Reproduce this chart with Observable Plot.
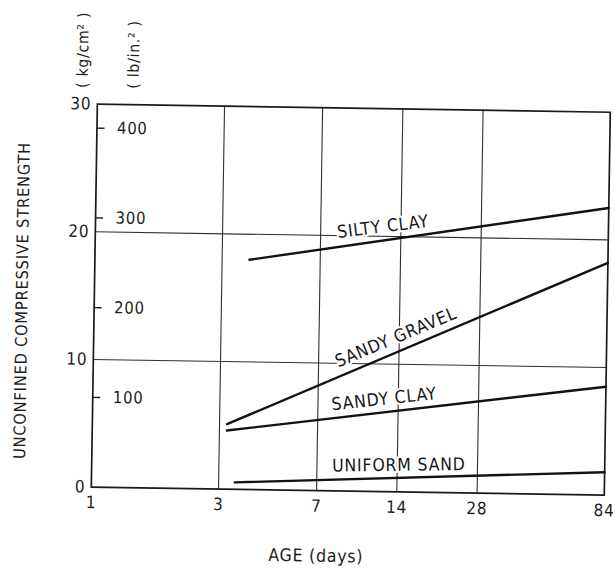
<!DOCTYPE html>
<html>
<head>
<meta charset="utf-8">
<script src="https://cdn.jsdelivr.net/npm/d3@7"></script>
<script src="https://cdn.jsdelivr.net/npm/@observablehq/plot@0.6"></script>
<style>
  html, body { margin: 0; padding: 0; background: #fff; }
  #chart svg { display: block; transform: rotate(0.9deg); transform-origin: 50% 50%; }
  #chart svg text { letter-spacing: 0.8px; }
</style>
</head>
<body>
<div id="chart"></div>
<script>
// Strength gain of cement-stabilised soils with curing age
const soils = ["SILTY CLAY", "SANDY GRAVEL", "SANDY CLAY", "UNIFORM SAND"];
const ageStart = [3.8, 3.2, 3.2, 3.45];          // days
const ageEnd = [84, 84, 84, 84];                 // days
const strengthStart = [18.0, 5.1, 4.6, 0.55];    // kg/cm²
const strengthEnd = [22.5, 18.2, 8.5, 1.8];      // kg/cm²

// where each curve's name is written
const labelAge = [12.0, 13.6, 12.4, 14.2];
const labelStrength = [20.75, 12.1, 7.25, 2.1];
const labelAngle = [-8, -23.5, -7, -1.5];

// axes
const ageTicks = [1, 3, 7, 14, 28, 84];
const ageGrid = [3, 7, 14, 28];
const kgTicks = [0, 10, 20, 30];
const kgGrid = [10, 20];
const psiTicks = [100, 200, 300, 400];
const PSI_PER_KG = 14.223;

const rows = soils.flatMap((soil, i) => [
  {soil, age: ageStart[i], strength: strengthStart[i]},
  {soil, age: ageEnd[i], strength: strengthEnd[i]}
]);
const labels = soils.map((soil, i) => ({
  soil, age: labelAge[i], strength: labelStrength[i], angle: labelAngle[i]
}));

const W = 615, H = 574;
const mL = 94, mR = 8, mT = 107, mB = 84;
const ink = "#1a1a1a";
const textInk = "#1e1e1e";
const font = "'DejaVu Sans Condensed', 'DejaVu Sans', sans-serif";

const chart = Plot.plot({
  width: W,
  height: H,
  marginLeft: mL,
  marginRight: mR,
  marginTop: mT,
  marginBottom: mB,
  style: {fontFamily: font, fontSize: "17px", color: textInk, background: "white", overflow: "visible"},
  x: {type: "log", domain: [1, 84], axis: null},
  y: {domain: [0, 30], axis: null},
  marks: [
    Plot.gridX(ageGrid, {stroke: ink, strokeOpacity: 0.9, strokeWidth: 1.1}),
    Plot.gridY(kgGrid, {stroke: ink, strokeOpacity: 0.9, strokeWidth: 1.1}),
    Plot.frame({stroke: ink, strokeWidth: 1.7}),
    // secondary scale in lb/in², ticks pointing into the plot
    Plot.ruleY(psiTicks, {y: d => d / PSI_PER_KG, insetRight: W - mL - mR - 8, stroke: ink, strokeWidth: 1.4}),
    Plot.text(psiTicks, {y: d => d / PSI_PER_KG, text: d => String(d), frameAnchor: "left", textAnchor: "start", dx: 20, fontSize: 16.5, fill: textInk}),
    // age labels under the grid lines
    Plot.text(ageTicks, {x: d => d, text: d => String(d), frameAnchor: "bottom", lineAnchor: "top", dy: 9, fontSize: 17, fill: textInk}),
    // strength labels left of the frame
    Plot.text(kgTicks, {y: d => d, text: d => String(d), frameAnchor: "left", textAnchor: "end", dx: -6, fontSize: 17, fill: textInk}),
    // axis titles and units
    Plot.text(["UNCONFINED COMPRESSIVE STRENGTH"], {frameAnchor: "left", dx: -72, dy: 6, rotate: -90, textAnchor: "middle", fontSize: 16.3, fill: textInk}),
    Plot.text(["( kg/cm\u00B2 )"], {frameAnchor: "top-left", dx: -21, dy: -16, rotate: -90, textAnchor: "start", fontSize: 15.5, fill: textInk}),
    Plot.text(["( lb/in.\u00B2 )"], {frameAnchor: "top-left", dx: 30, dy: -16, rotate: -90, textAnchor: "start", fontSize: 15.5, fill: textInk}),
    Plot.text(["AGE (days)"], {frameAnchor: "bottom", dx: -31, dy: 71, fontSize: 17.5, fill: textInk}),
    // curve names, with a white halo that breaks the grid behind them
    Plot.text(labels, {x: "age", y: "strength", text: "soil", rotate: "angle", fontSize: 17.5, fill: "#181818", stroke: "white", strokeWidth: 4}),
    // strength curves
    Plot.line(rows, {x: "age", y: "strength", z: "soil", stroke: "#121212", strokeWidth: 2.4})
  ]
});

document.getElementById("chart").append(chart);
</script>
</body>
</html>
